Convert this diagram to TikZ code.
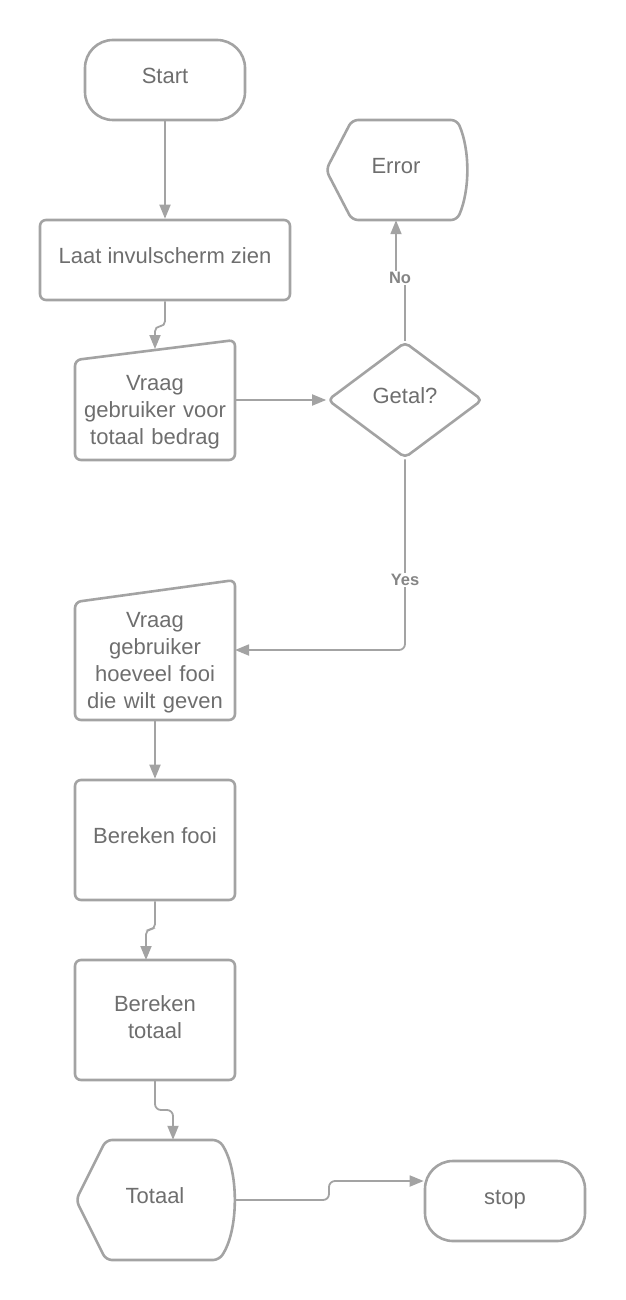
\documentclass[tikz,border=0pt]{standalone}
\usepackage{fontspec}
\setmainfont{Liberation Sans}
\usetikzlibrary{arrows.meta,shapes.geometric}
\definecolor{strk}{HTML}{A3A3A3}
\definecolor{txt}{HTML}{6E6E6E}
\definecolor{lbltxt}{HTML}{858585}
\tikzset{
  shp/.style={draw=strk, line width=2.6pt, line join=round},
  term/.style={shp, rounded corners=28pt, minimum width=160pt, minimum height=80pt, inner sep=0pt},
  proc/.style={shp, rounded corners=6pt, inner sep=0pt},
  txtnode/.style={text=txt, font=\fontsize{22}{27}\selectfont, align=center, inner sep=0pt},
  oneline/.style={text height=0.72em, text depth=0.1em},
  conn/.style={draw=strk, line width=1.8pt, -{Triangle[length=14pt,width=11pt]}},
  lbl/.style={fill=white, text=lbltxt, font=\fontsize{16.5}{18}\selectfont\bfseries, inner sep=1.5pt}
}
\begin{document}
\begin{tikzpicture}[x=1pt,y=-1pt]
\useasboundingbox (0,0) rectangle (625,1300);
% shapes
\node[term, txtnode, oneline, draw=strk] (start) at (165,80) {Start};
\node[proc, txtnode, oneline, draw=strk, minimum width=250pt, minimum height=80pt] (laat) at (165,260) {Laat invulscherm zien};
\draw[shp, rounded corners=6pt] (75,360) -- (235,340) -- (235,460) -- (75,460) -- cycle;
\node[txtnode, text width=160pt] (v1) at (155,412) {Vraag\\gebruiker voor\\totaal bedrag};
\node[shp, diamond, rounded corners=5pt, minimum width=155pt, minimum height=116pt, inner sep=0pt, txtnode, oneline, draw=strk] (getal) at (405,400) {Getal?};
\draw[shp, rounded corners=6pt] (352,120) -- (457,120) .. controls (470,150) and (470,190) .. (457,220) -- (352,220) -- (326,170) -- cycle;
\node[txtnode, oneline, minimum height=100pt] (error) at (396,170) {Error};
\draw[shp, rounded corners=6pt] (75,602) -- (235,580) -- (235,720) -- (75,720) -- cycle;
\node[txtnode, text width=160pt] (v2) at (155,663) {Vraag\\gebruiker\\hoeveel fooi\\die wilt geven};
\node[proc, txtnode, oneline, draw=strk, minimum width=160pt, minimum height=120pt] (fooi) at (155,840) {Bereken fooi};
\draw[shp, rounded corners=6pt] (75,960) rectangle (235,1080);
\node[txtnode, text width=160pt] (btot) at (155,1017) {Bereken\\totaal};
\draw[shp, rounded corners=6pt] (106,1140) -- (219,1140) .. controls (239,1170) and (239,1230) .. (219,1260) -- (106,1260) -- (76,1200) -- cycle;
\node[txtnode, oneline, minimum width=158pt, minimum height=120pt] (tot) at (155,1200) {Totaal};
\node[term, txtnode, oneline, draw=strk] (stop) at (505,1201) {stop};
% helper coordinates
\coordinate (v1in) at (155,349);
\coordinate (v2in) at (235,650);
\coordinate (btotin) at (146,960);
\coordinate (btotout) at (155,1080);
\coordinate (nopt) at (400,278);
\coordinate (jog) at (329,1181);
% connectors
\draw[conn] (start.south) -- (laat.north);
\draw[conn, rounded corners=5pt] (laat.south) -- ++(0,25) -| (v1in);
\draw[conn] (v1.east |- getal.west) -- (getal.west);
\draw[conn] (getal.north) -- (getal.north |- nopt) -- (error.south |- nopt) -- (error.south);
\node[lbl] (no) at (nopt) {No};
\draw[conn, rounded corners=6pt] (getal.south) |- (v2in);
\node[lbl] (yes) at (405,580) {Yes};
\draw[conn] (v2.south |- 0,720) -- (fooi.north);
\draw[conn, rounded corners=5pt] (fooi.south) -- ++(0,28) -| (btotin);
\draw[conn, rounded corners=6pt] (btotout) -- ++(0,30) -| ([xshift=18pt]tot.north);
\draw[conn, rounded corners=6pt] (tot.east) -| (jog) -- (stop.west |- jog);
\end{tikzpicture}
\end{document}
